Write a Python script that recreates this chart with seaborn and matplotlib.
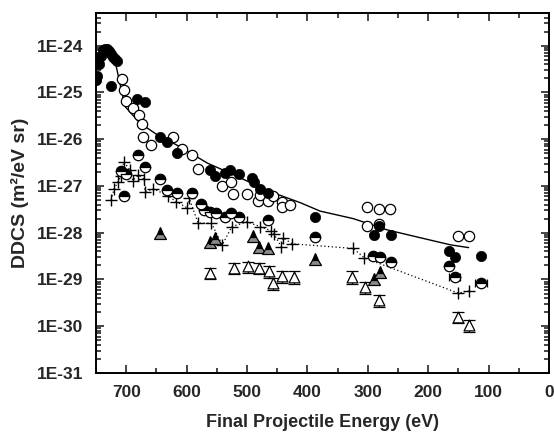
import math
import matplotlib
matplotlib.use("Agg")
import matplotlib.pyplot as plt
import matplotlib.ticker as mticker
import seaborn as sns

# filled circles
filled_E = [750, 748, 745, 742, 738, 735, 732, 728, 725, 722, 718, 715,
            725, 682, 669, 644, 632, 616, 561, 553, 536, 528, 513, 491, 488,
            478, 465, 388, 289, 281, 261, 165, 156, 113]
filled_V = [1.8e-25, 2.2e-25, 4.0e-25, 5.9e-25, 7.9e-25, 8.7e-25, 8.3e-25, 7.7e-25,
            6.6e-25, 5.6e-25, 5.1e-25, 4.6e-25,
            1.4e-25, 7.4e-26, 6.3e-26, 1.1e-26, 8.9e-27, 5.1e-27, 2.2e-27, 1.6e-27,
            1.9e-27, 2.2e-27, 1.8e-27, 1.5e-27, 1.2e-27, 8.7e-28, 7.1e-28, 2.2e-28,
            9.1e-29, 1.4e-28, 9.1e-29, 4.1e-29, 3.0e-29, 3.2e-29]

# open circles
open_E = [707, 704, 700, 689, 679, 674, 672, 659, 622, 607, 591, 581, 541, 526,
          523, 500, 481, 478, 465, 457, 442, 442, 428, 302, 301, 282, 282, 264, 150, 133]
open_V = [1.9e-25, 1.1e-25, 6.6e-26, 4.7e-26, 3.3e-26, 2.1e-26, 1.1e-26, 7.6e-27,
          1.1e-26, 6.3e-27, 4.7e-27, 2.3e-27, 1.0e-27, 1.2e-27, 6.8e-28, 6.8e-28,
          4.8e-28, 6.5e-28, 4.8e-28, 6.2e-28, 4.6e-28, 3.5e-28, 4.0e-28, 3.6e-28,
          1.4e-28, 3.2e-28, 1.5e-28, 3.2e-28, 8.5e-29, 8.5e-29]

# theory curve
theory_E = [718, 702, 677, 649, 611, 566, 516, 466, 412, 379, 324, 268, 213, 163, 133]
theory_V = [4.4e-25, 5.0e-26, 2.2e-26, 1.25e-26, 6.9e-27, 3.1e-27, 1.6e-27, 7.9e-28,
            4.4e-28, 2.9e-28, 2.0e-28, 1.15e-28, 7.8e-29, 5.5e-29, 4.8e-29]

# half filled circles
half_E = [709, 704, 700, 680, 669, 644, 632, 616, 591, 576, 571, 561, 551, 536,
          526, 513, 466, 388, 291, 279, 261, 165, 156, 113]
half_V = [2.1e-27, 6.2e-28, 1.8e-27, 4.5e-27, 2.6e-27, 1.4e-27, 8.3e-28, 7.1e-28,
          7.1e-28, 4.2e-28, 3.1e-28, 2.8e-28, 2.7e-28, 2.2e-28, 2.7e-28, 2.2e-28,
          1.9e-28, 8.1e-29, 3.2e-29, 3.0e-29, 2.4e-29, 1.9e-29, 1.15e-29, 8.5e-30]
half_xerr = [0, 0, 0, 0, 0, 0, 0, 0, 0, 0, 0, 0, 0, 0, 0, 0, 0, 0, 0, 0, 0, 0, 9, 10]

# crosses joined by dotted line
plus_E = [725, 720, 714, 709, 704, 694, 689, 680, 670, 669, 655, 631, 617, 599, 596,
          581, 559, 541, 525, 500, 478, 460, 456, 443, 440, 425, 324, 306, 150, 133]
plus_V = [5.0e-28, 8.7e-28, 1.2e-27, 1.6e-27, 3.3e-27, 2.2e-27, 1.3e-27, 1.7e-27,
          1.4e-27, 7.6e-28, 8.7e-28, 6.2e-28, 4.6e-28, 3.4e-28, 5.6e-28, 1.6e-28,
          1.6e-28, 5.5e-29, 1.35e-28, 1.7e-28, 1.35e-28, 1.1e-28, 9.6e-29, 5.0e-29,
          7.7e-29, 5.8e-29, 4.6e-29, 2.9e-29, 5.1e-30, 5.7e-30]

# filled triangles
ftri_E = [644, 561, 553, 490, 480, 465, 388, 279, 289]
ftri_V = [1.0e-28, 6.4e-29, 7.8e-29, 8.5e-29, 5.0e-29, 4.6e-29, 2.8e-29, 1.45e-29, 1.0e-29]

# open triangles with error bars
otri_E = [561, 521, 498, 480, 463, 457, 442, 423, 326, 304, 282, 150, 132]
otri_V = [1.4e-29, 1.8e-29, 1.9e-29, 1.8e-29, 1.5e-29, 8.5e-30, 1.2e-29, 1.15e-29,
          1.15e-29, 6.9e-30, 3.6e-30, 1.6e-30, 1.07e-30]
otri_err = [0.4e-29, 0.5e-29, 0.5e-29, 0.5e-29, 0.4e-29, 0.25e-29, 0.35e-29, 0.35e-29,
            0.35e-29, 0.2e-29, 0.1e-29, 0.45e-30, 0.3e-30]

y_ticks = [1e-31, 1e-30, 1e-29, 1e-28, 1e-27, 1e-26, 1e-25, 1e-24]

sns.set_style("ticks")
plt.rcParams['font.family'] = ['Liberation Sans', 'DejaVu Sans']
plt.rcParams['font.weight'] = 'bold'

fig = plt.figure(figsize=(5.54, 4.33), dpi=100)
ax = fig.add_axes([0.1733, 0.1386, 0.8177, 0.8314])

sns.lineplot(x=theory_E, y=theory_V, sort=False, color='black', lw=1.0, ax=ax)
sns.lineplot(x=plus_E, y=plus_V, sort=False, color='black', lw=0.9,
             linestyle=(0, (1, 2)), ax=ax)
sns.scatterplot(x=plus_E, y=plus_V, marker='+', s=70, color='black',
                linewidth=1.0, ax=ax, zorder=3)

ax.errorbar(otri_E, otri_V, yerr=otri_err, fmt='none', ecolor='black',
            elinewidth=0.9, capsize=4, capthick=0.9, zorder=2)
sns.scatterplot(x=otri_E, y=otri_V, marker='^', s=60, facecolor='white',
                edgecolor='black', linewidth=0.9, ax=ax, zorder=3)

ax.plot(ftri_E, ftri_V, linestyle='none', marker='^', markersize=8,
        fillstyle='top', markerfacecolor='black', markerfacecoloralt='#8a8a8a',
        markeredgecolor='black', markeredgewidth=0.9, zorder=3)

ax.errorbar(half_E, half_V, xerr=half_xerr, fmt='none', ecolor='black',
            elinewidth=0.9, capsize=3, capthick=0.9, zorder=2)
ax.plot(half_E, half_V, linestyle='none', marker='o', markersize=7.5,
        fillstyle='top', markerfacecolor='black', markerfacecoloralt='white',
        markeredgecolor='black', markeredgewidth=0.9, zorder=3)

sns.scatterplot(x=open_E, y=open_V, marker='o', s=55, facecolor='white',
                edgecolor='black', linewidth=0.9, ax=ax, zorder=3)
sns.scatterplot(x=filled_E, y=filled_V, marker='o', s=55, color='black',
                edgecolor='black', linewidth=0.5, ax=ax, zorder=4)

ax.set_yscale('log')
ax.set_ylim(1e-31, 5e-24)
ax.set_xlim(750, 0)

ax.xaxis.set_major_locator(mticker.MultipleLocator(100))
ax.xaxis.set_minor_locator(mticker.MultipleLocator(50))
ax.yaxis.set_major_locator(mticker.FixedLocator(y_ticks))
ax.yaxis.set_minor_locator(mticker.LogLocator(base=10, subs=range(2, 10), numticks=20))
ax.yaxis.set_minor_formatter(mticker.NullFormatter())
ax.yaxis.set_major_formatter(
    mticker.FuncFormatter(lambda v, p: '1E%d' % round(math.log10(v))))

ax.tick_params(which='both', direction='in', top=True, right=True, width=1.2)
ax.tick_params(which='major', length=6, labelsize=12.5, pad=9)
ax.tick_params(which='minor', length=3.5)
for lab in ax.get_xticklabels() + ax.get_yticklabels():
    lab.set_fontweight('bold')
for sp in ax.spines.values():
    sp.set_linewidth(1.4)
    sp.set_color('black')

ax.set_xlabel('Final Projectile Energy (eV)', fontsize=13, fontweight='bold', labelpad=10)
ax.set_ylabel('DDCS (m²/eV sr)', fontsize=14, fontweight='bold', labelpad=6)

fig.savefig('out.png', dpi=100)
